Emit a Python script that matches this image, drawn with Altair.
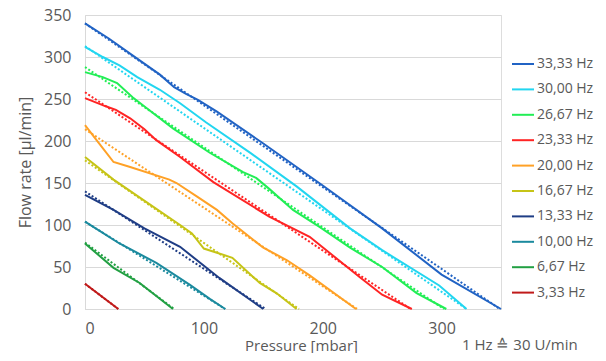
import altair as alt
import pandas as pd

# ---- data ----
series = ["33,33 Hz", "30,00 Hz", "26,67 Hz", "23,33 Hz", "20,00 Hz",
          "16,67 Hz", "13,33 Hz", "10,00 Hz", "6,67 Hz", "3,33 Hz"]
colors = ["#2163c4", "#22d6f0", "#22ee55", "#ff2424", "#ffa126",
          "#c6c417", "#1f3d85", "#1b8a9e", "#22a043", "#c01a1a"]

# measured curves (solid): pressure [mbar] and flow [µl/min]
p_3333 = [0, 20, 40, 63, 75, 85, 95, 111, 150, 200, 250, 300, 350]
q_3333 = [340, 322, 302, 279, 264, 256, 249, 235, 197, 147, 96, 41, 0]
p_3000 = [0, 15, 29, 44, 63, 80, 102, 140, 178, 223, 250, 298, 321]
q_3000 = [312, 300, 290, 276, 261, 245, 222, 185, 146, 96, 70, 28, 0]
p_2667 = [0, 15, 27, 40, 52, 74, 105, 133, 144, 155, 175, 197, 223, 250, 279, 304]
q_2667 = [282, 276, 269, 252, 239, 215, 186, 163, 156, 143, 118, 98, 73, 50, 19, 0]
p_2333 = [0, 18, 26, 38, 50, 60, 80, 108, 155, 189, 231, 250, 275]
q_2333 = [251, 241, 237, 227, 214, 201, 181, 151, 110, 86, 38, 17, 0]
p_2000 = [0, 12, 24, 38, 71, 77, 94, 111, 124, 150, 170, 189, 228]
q_2000 = [219, 197, 175, 169, 154, 150, 134, 118, 102, 73, 58, 40, 0]
p_1667 = [0, 24, 52, 80, 90, 100, 124, 147, 161, 178]
q_1667 = [181, 154, 127, 100, 90, 72, 61, 31, 19, 0]
p_1333 = [0, 24, 50, 80, 113, 150]
q_1333 = [136, 118, 96, 74, 37, 0]
p_1000 = [0, 29, 60, 88, 105, 118]
q_1000 = [104, 78, 55, 29, 12, 0]
p_0667 = [0, 24, 46, 74]
q_0667 = [78, 49, 31, 0]
p_0333 = [0, 28]
q_0333 = [30, 0]

measured_p = [p_3333, p_3000, p_2667, p_2333, p_2000, p_1667, p_1333, p_1000, p_0667, p_0333]
measured_q = [q_3333, q_3000, q_2667, q_2333, q_2000, q_1667, q_1333, q_1000, q_0667, q_0333]

# linear fits (dotted): flow at 0 mbar and pressure at zero flow
fit_q0 = [340, 313, 288, 258, 214, 177, 140, 104, 79, 30]
fit_p0 = [349, 321, 302, 274, 229, 180, 152, 118, 75, 28]

rows = []
for i, s in enumerate(series):
    for p, q in zip(measured_p[i], measured_q[i]):
        rows.append({"series": s, "p": p, "q": q})
meas = pd.DataFrame(rows)

frows = []
for i, s in enumerate(series):
    frows.append({"series": s, "p": 0, "q": fit_q0[i]})
    frows.append({"series": s, "p": fit_p0[i], "q": 0})
fit = pd.DataFrame(frows)

FONT = "Open Sans"
GREY = "#595959"

xs = alt.X("p:Q", scale=alt.Scale(domain=[0, 350], nice=False),
           axis=alt.Axis(values=[0, 100, 200, 300], title="Pressure [mbar]",
                         grid=False, ticks=False, domain=True, domainColor="#d9d9d9",
                         labelFontSize=16, labelColor=GREY, labelPadding=11,
                         titleFontSize=15, titleColor=GREY, titleFontWeight="normal",
                         titleBaseline="alphabetic", titleY=41, titleX=216))
ys = alt.Y("q:Q", scale=alt.Scale(domain=[0, 350], nice=False),
           axis=alt.Axis(values=[0, 50, 100, 150, 200, 250, 300, 350],
                         title="Flow rate [µl/min]", grid=True, gridColor="#d9d9d9",
                         ticks=False, domain=True, domainColor="#d9d9d9",
                         labelFontSize=16, labelColor=GREY, labelPadding=14,
                         titleFontSize=16, titleColor=GREY, titleFontWeight="normal",
                         titlePadding=10))

legend = alt.Legend(title=None, orient="none", legendX=426, legendY=37,
                    symbolType="stroke", symbolSize=484,
                    symbolStrokeWidth=2, labelFontSize=14,
                    labelColor=GREY, labelFont=FONT, rowPadding=6.4,
                    labelOffset=2)
color = alt.Color("series:N", scale=alt.Scale(domain=series, range=colors), legend=legend)

fit_layer = alt.Chart(fit).mark_line(strokeWidth=2, strokeDash=[2, 2]).encode(
    x=xs, y=ys, color=color, detail="series:N", order="p:Q")

meas_layer = alt.Chart(meas).mark_line(strokeWidth=2).encode(
    x=xs, y=ys, color=color, detail="series:N", order="p:Q")

note = alt.Chart(pd.DataFrame({"t": ["1 Hz ≙ 30 U/min"]})).mark_text(
    font=FONT, fontSize=15, color=GREY, align="left", baseline="alphabetic").encode(
    x=alt.value(377), y=alt.value(335), text="t:N")

chart = alt.layer(fit_layer, meas_layer, note).properties(
    width=416, height=294,
    autosize=alt.AutoSizeParams(type="none"),
    padding={"left": 77, "top": 7, "right": 97, "bottom": 44},
).configure_view(stroke="#d9d9d9").configure(font=FONT)

chart.save("out.html", embed_options={"renderer": "svg", "actions": False})
